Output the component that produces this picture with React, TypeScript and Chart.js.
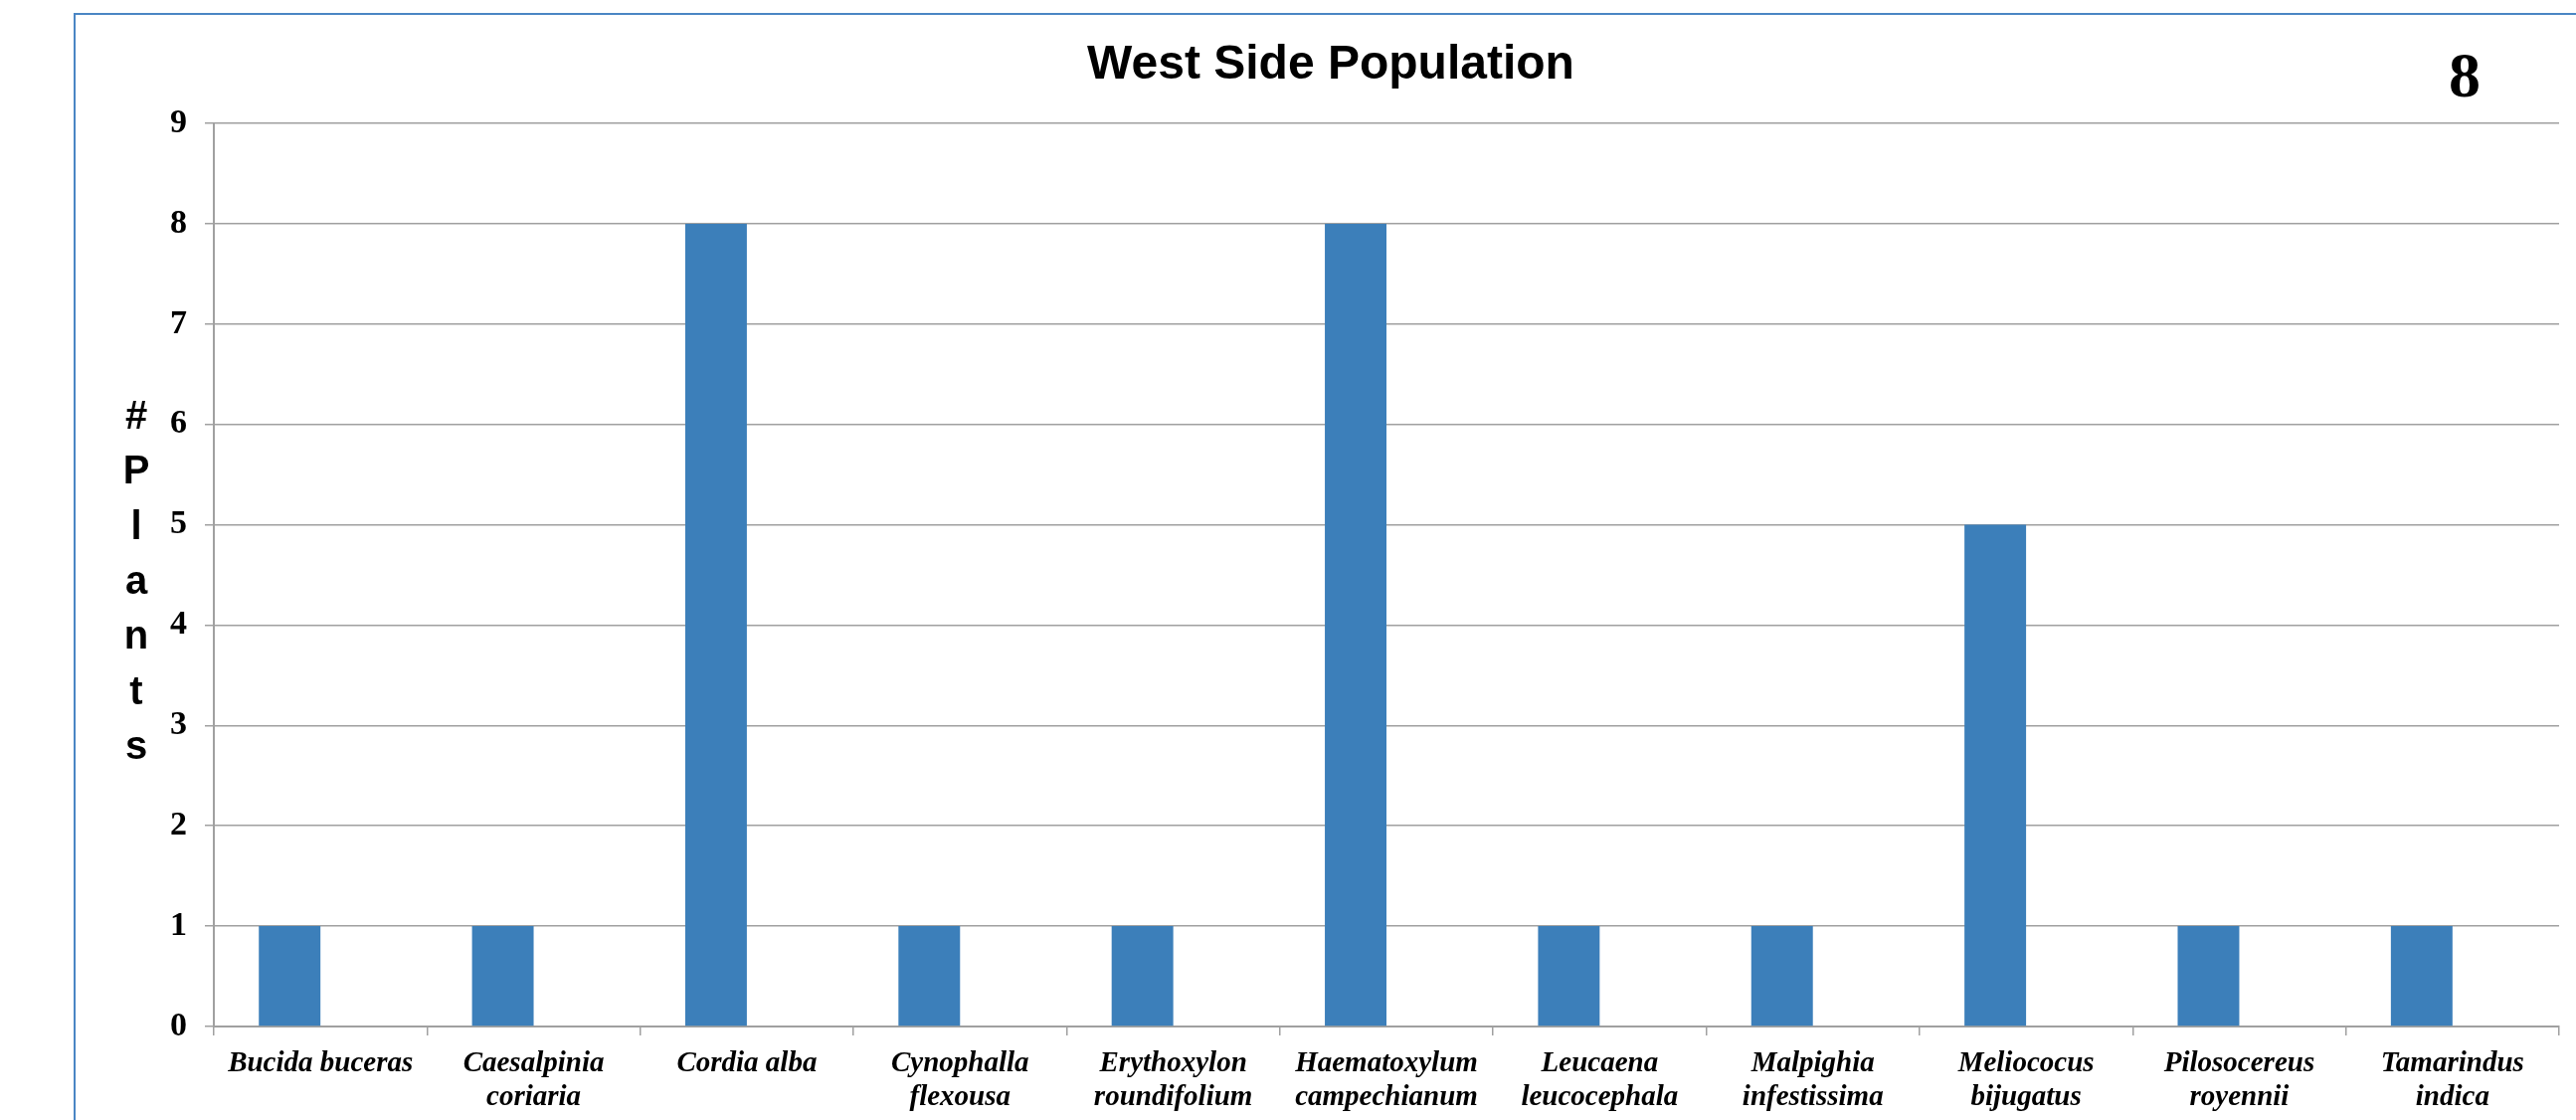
import React, { useEffect, useRef } from "react";
import { Chart, registerables } from "chart.js";

Chart.register(...registerables);

const chartTitle = "West Side Population";
const cornerNumber = "8";
const yAxisTitleLetters = ["#", "P", "l", "a", "n", "t", "s"];

const categories: (string | string[])[] = [
  "Bucida buceras",
  ["Caesalpinia", "coriaria"],
  "Cordia alba",
  ["Cynophalla", "flexousa"],
  ["Erythoxylon", "roundifolium"],
  ["Haematoxylum", "campechianum"],
  ["Leucaena", "leucocephala"],
  ["Malpighia", "infestissima"],
  ["Meliococus", "bijugatus"],
  ["Pilosocereus", "royennii"],
  ["Tamarindus", "indica"],
];

const plantCounts = [1, 1, 8, 1, 1, 8, 1, 1, 5, 1, 1];
const emptySeries = [null, null, null, null, null, null, null, null, null, null, null];

const yMin = 0;
const yMax = 9;
const yStep = 1;

const W = 2590;
const H = 1126;

const decorPlugin = {
  id: "decor",
  afterDraw(chart: any) {
    const ctx = chart.ctx as CanvasRenderingContext2D;
    ctx.save();
    // frame
    ctx.strokeStyle = "#4a86c4";
    ctx.lineWidth = 2;
    ctx.beginPath();
    ctx.moveTo(75, H);
    ctx.lineTo(75, 14);
    ctx.lineTo(W, 14);
    ctx.stroke();

    // title
    ctx.fillStyle = "#000";
    ctx.font = "bold 48px 'Liberation Sans', Arial, sans-serif";
    ctx.textBaseline = "alphabetic";
    ctx.textAlign = "center";
    ctx.fillText(chartTitle, 1338, 79);

    // corner number
    ctx.font = "bold 64px 'Liberation Serif', 'Times New Roman', serif";
    ctx.textAlign = "center";
    ctx.fillText(cornerNumber, 2478, 97);

    // stacked y axis title
    ctx.font = "bold 40px 'Liberation Sans', Arial, sans-serif";
    yAxisTitleLetters.forEach((ch, i) => {
      ctx.fillText(ch, 137, 431 + i * 55.3);
    });
    ctx.restore();
  },
};

export default function App() {
  const ref = useRef<HTMLCanvasElement | null>(null);

  useEffect(() => {
    if (!ref.current) return;
    const gridColor = "#a0a0a0";
    const chart = new Chart(ref.current, {
      type: "bar",
      data: {
        labels: categories,
        datasets: [
          {
            data: plantCounts,
            backgroundColor: "#3c7fba",
            borderWidth: 0,
            categoryPercentage: 0.578,
            barPercentage: 1,
          },
          {
            data: emptySeries as any,
            backgroundColor: "#c0504d",
            borderWidth: 0,
            categoryPercentage: 0.578,
            barPercentage: 1,
          },
        ],
      },
      options: {
        animation: false,
        responsive: false,
        maintainAspectRatio: false,
        devicePixelRatio: 1,
        layout: { padding: { top: 124, right: 17, bottom: 0, left: 0 } },
        plugins: {
          legend: { display: false },
          tooltip: { enabled: false },
          title: { display: false },
        },
        scales: {
          x: {
            grid: {
              drawOnChartArea: false,
              drawTicks: true,
              tickLength: 9,
              color: gridColor,
              lineWidth: 1.5,
              offset: true,
            },
            border: { color: gridColor, width: 2 },
            ticks: {
              color: "#000",
              padding: 12,
              maxRotation: 0,
              minRotation: 0,
              autoSkip: false,
              font: {
                family: "'Liberation Serif', 'Times New Roman', serif",
                size: 29,
                weight: "bold",
                style: "italic",
                lineHeight: 1.15,
              },
            },
            afterFit: (s: any) => {
              s.height = 94;
            },
          },
          y: {
            min: yMin,
            max: yMax,
            ticks: {
              stepSize: yStep,
              padding: 18,
              color: "#000",
              font: {
                family: "'Liberation Serif', 'Times New Roman', serif",
                size: 34,
                weight: "bold",
              },
            },
            grid: { color: gridColor, lineWidth: 1.5, tickLength: 9 },
            border: { color: gridColor, width: 2 },
            afterFit: (s: any) => {
              s.width = 215;
            },
          },
        },
      },
      plugins: [decorPlugin],
    });
    return () => chart.destroy();
  }, []);

  return (
    <div style={{ position: "absolute", left: 0, top: 0, width: W, height: H, background: "#fff" }}>
      <canvas ref={ref} width={W} height={H} style={{ width: W, height: H, display: "block" }} />
    </div>
  );
}
